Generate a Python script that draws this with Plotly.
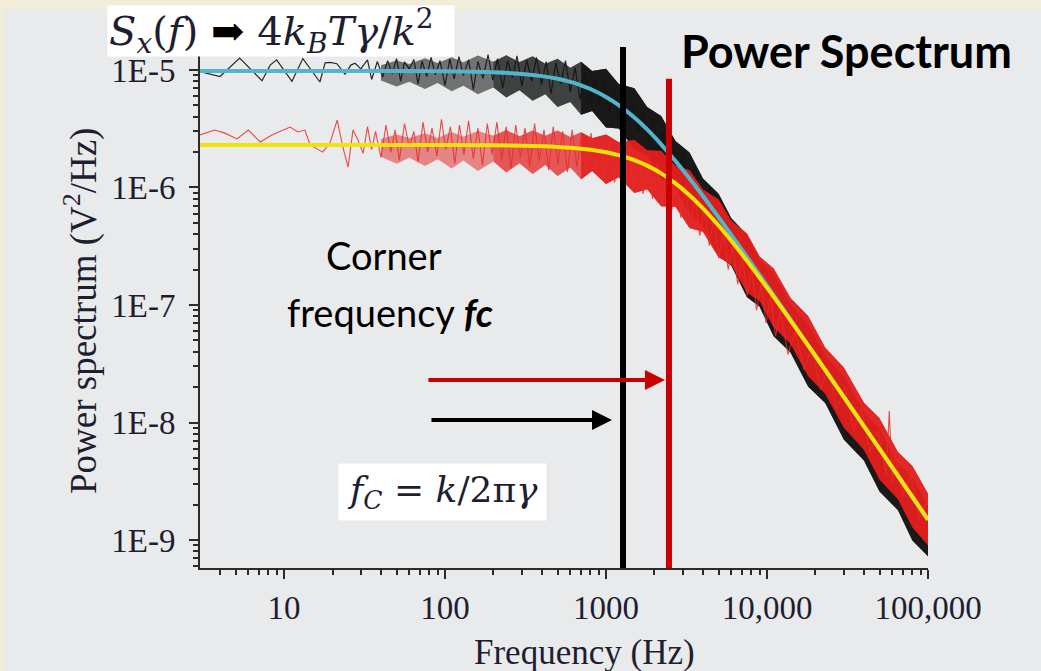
import plotly.graph_objects as go

# ---------------- data ----------------
# fitted Lorentzian curves (Hz, V^2/Hz)
fit_freq = [3, 10, 30, 100, 200, 300, 400, 500, 600, 700, 800, 1000, 1200, 1500, 1800,
            2200, 2700, 3300, 4000, 5000, 6000, 7500, 10000, 13000, 20000, 30000, 50000, 100000]
fit_black = [9.8e-6, 9.8e-6, 9.79e-6, 9.74e-6, 9.55e-6, 9.25e-6, 8.86e-6, 8.41e-6, 7.92e-6,
             7.40e-6, 6.89e-6, 5.90e-6, 5.02e-6, 3.94e-6, 3.12e-6, 2.33e-6, 1.68e-6, 1.195e-6,
             8.47e-7, 5.59e-7, 3.95e-7, 2.57e-7, 1.46e-7, 8.69e-8, 3.69e-8, 1.645e-8, 5.93e-9, 1.48e-9]
fit_red = [2.3e-6, 2.3e-6, 2.3e-6, 2.30e-6, 2.29e-6, 2.27e-6, 2.245e-6, 2.215e-6, 2.18e-6,
           2.14e-6, 2.094e-6, 1.993e-6, 1.883e-6, 1.709e-6, 1.535e-6, 1.319e-6, 1.084e-6, 8.60e-7,
           6.65e-7, 4.75e-7, 3.52e-7, 2.38e-7, 1.404e-7, 8.52e-8, 3.68e-8, 1.65e-8, 5.97e-9, 1.495e-9]

# ragged envelope of the dense noise bands
band_freq = [40, 50, 60, 75, 90, 110, 130, 160, 200, 240, 290, 350, 420, 500, 600, 700, 820, 1000,
             1200, 1500, 1800, 2200, 2700, 3300, 4000, 5000, 6000, 7500, 9000, 11000, 14000, 18000,
             23000, 30000, 40000, 50000, 65000, 80000, 100000]
black_upper = [1.099e-5, 1.202e-5, 1.122e-5, 1.256e-5, 1.146e-5, 1.282e-5, 1.164e-5, 1.330e-5,
               1.175e-5, 1.334e-5, 1.169e-5, 1.309e-5, 1.130e-5, 1.245e-5, 1.042e-5, 1.172e-5,
               9.79e-6, 1.026e-5, 7.60e-6, 7.00e-6, 4.83e-6, 4.06e-6, 2.49e-6, 1.98e-6, 1.195e-6,
               8.85e-7, 5.46e-7, 3.97e-7, 2.42e-7, 1.875e-7, 1.012e-7, 6.89e-8, 3.68e-8, 2.48e-8,
               1.222e-8, 8.77e-9, 4.52e-9, 3.35e-9, 1.954e-9]
black_lower = [8.15e-6, 7.24e-6, 7.94e-6, 6.90e-6, 7.74e-6, 6.58e-6, 7.35e-6, 6.22e-6, 7.08e-6,
               5.82e-6, 6.73e-6, 5.46e-6, 6.21e-6, 4.84e-6, 5.35e-6, 4.16e-6, 4.48e-6, 3.24e-6,
               3.17e-6, 2.11e-6, 1.88e-6, 1.197e-6, 9.91e-7, 5.98e-7, 4.75e-7, 2.61e-7, 2.17e-7,
               1.172e-7, 9.64e-8, 5.41e-8, 3.94e-8, 2.03e-8, 1.466e-8, 7.16e-9, 4.75e-9, 2.59e-9,
               1.80e-9, 9.89e-10, 7.26e-10]
red_upper = [2.58e-6, 2.83e-6, 2.64e-6, 2.90e-6, 2.64e-6, 2.96e-6, 2.70e-6, 3.02e-6, 2.75e-6,
             3.08e-6, 2.73e-6, 3.05e-6, 2.75e-6, 3.06e-6, 2.69e-6, 2.95e-6, 2.62e-6, 2.82e-6,
             2.43e-6, 2.53e-6, 2.07e-6, 2.04e-6, 1.53e-6, 1.40e-6, 9.62e-7, 7.89e-7, 5.21e-7,
             4.05e-7, 2.59e-7, 2.04e-7, 1.146e-7, 8.05e-8, 4.33e-8, 2.94e-8, 1.476e-8, 1.086e-8,
             5.61e-9, 4.26e-9, 2.48e-9]
red_lower = [1.83e-6, 1.59e-6, 1.79e-6, 1.52e-6, 1.74e-6, 1.45e-6, 1.70e-6, 1.38e-6, 1.66e-6,
             1.34e-6, 1.61e-6, 1.30e-6, 1.55e-6, 1.25e-6, 1.48e-6, 1.175e-6, 1.38e-6, 1.07e-6,
             1.22e-6, 8.97e-7, 9.68e-7, 6.92e-7, 6.84e-7, 4.52e-7, 4.20e-7, 2.55e-7, 2.22e-7,
             1.28e-7, 1.079e-7, 6.46e-8, 4.67e-8, 2.49e-8, 1.76e-8, 9.08e-9, 5.87e-9, 3.28e-9,
             2.23e-9, 1.285e-9, 9.02e-10]

# raw noisy spectra
black_freq = [3.0, 4.0, 5.3, 7.3, 8.2, 9.0, 11.2, 13.1, 16.7, 18.0, 19.3, 21.3, 23.9, 26.0, 27.6, 30,
              33, 35, 38, 41, 44, 47, 50, 53, 56, 60, 64, 68, 72, 77, 82, 87, 93, 100, 107, 114,
              122, 130, 140, 150, 160, 172, 185, 198, 212, 228, 245, 262, 280, 300, 322, 345, 370,
              397, 425, 455, 488, 523, 560, 600, 643, 690, 740, 793, 850, 911, 976, 1046, 1121,
              1200, 1290, 1380, 1480, 1590, 1700, 1830, 1960, 2100, 2250, 2420, 2600, 2800, 3000,
              3300, 3600, 4000, 4400, 4900, 5400, 6000, 6600, 7300, 8100, 9000, 10000, 11500,
              13000, 15000, 17500, 20000, 23000, 27000, 31000, 36000, 42000, 50000, 58000, 68000,
              80000, 90000, 100000]
black_psd = [9.7e-6, 8.8e-6, 1.26e-5, 8.1e-6, 1.1e-5, 1.22e-5, 8.0e-6, 1.25e-5, 7.9e-6, 1.15e-5,
             1.16e-5, 1.13e-5, 9.2e-6, 1.1e-5, 1.14e-5, 1.02e-5, 1.22e-5, 8.3e-6, 1.18e-5, 8.7e-6,
             1.2e-5, 9.3e-6, 1.25e-5, 8.0e-6, 1.17e-5, 1.02e-5, 1.23e-5, 7.6e-6, 1.19e-5, 8.8e-6,
             1.28e-5, 9.1e-6, 1.2e-5, 7.4e-6, 1.24e-5, 8.4e-6, 1.3e-5, 9.0e-6, 1.22e-5, 6.8e-6,
             1.18e-5, 8.5e-6, 1.35e-5, 8.2e-6, 1.25e-5, 7.0e-6, 1.2e-5, 8.6e-6, 1.32e-5, 7.3e-6,
             1.22e-5, 8.0e-6, 1.28e-5, 7.5e-6, 1.18e-5, 6.3e-6, 1.15e-5, 7.6e-6, 1.2e-5, 6.5e-6,
             1.05e-5, 5.6e-6, 9.6e-6, 5.3e-6, 8.8e-6, 5.0e-6, 8.0e-6, 4.4e-6, 7.0e-6, 3.9e-6,
             6.3e-6, 3.5e-6, 5.3e-6, 2.9e-6, 4.6e-6, 2.5e-6, 3.8e-6, 2.1e-6, 3.0e-6, 1.65e-6,
             2.5e-6, 1.3e-6, 2.0e-6, 1.0e-6, 1.45e-6, 7.2e-7, 1.0e-6, 5.0e-7, 6.8e-7, 3.2e-7,
             4.5e-7, 2.1e-7, 2.8e-7, 1.3e-7, 1.9e-7, 8.5e-8, 1.15e-7, 5.0e-8, 6.5e-8, 2.6e-8,
             3.5e-8, 1.4e-8, 1.9e-8, 7.8e-9, 1.05e-8, 4.0e-9, 5.6e-9, 2.0e-9, 2.9e-9, 1.0e-9, 1.6e-9]

red_freq = [3.0, 3.7, 4.3, 5.1, 6.0, 7.1, 8.4, 10.9, 12.2, 13.5, 14.5, 17.4, 19.3, 21.4, 23.2, 25,
            26.8, 28.8, 31, 33, 35, 37, 40, 43, 46, 49, 52, 56, 60, 64, 68, 73, 78, 83, 89, 95,
            101, 108, 115, 123, 131, 140, 150, 160, 171, 183, 196, 210, 225, 240, 257, 275, 294,
            314, 336, 360, 385, 412, 440, 470, 503, 538, 576, 616, 659, 705, 754, 807, 863, 924,
            988, 1057, 1131, 1210, 1295, 1385, 1482, 1586, 1697, 1816, 1943, 2079, 2224, 2380,
            2547, 2725, 2916, 3120, 3340, 3570, 3820, 4090, 4380, 4680, 5010, 5360, 5740, 6140,
            6570, 7030, 7520, 8050, 8610, 9210, 9860, 10500, 11300, 12100, 13500, 15000, 17000,
            19000, 21500, 24000, 27000, 30500, 34500, 38500, 43500, 49000, 55000, 57500, 60000,
            62000, 70000, 78000, 88000, 100000]
red_psd = [2.80e-6, 3.08e-6, 2.9e-6, 2.59e-6, 3.08e-6, 2.44e-6, 2.8e-6, 3.27e-6, 2.97e-6, 3.08e-6,
           2.3e-6, 2.0e-6, 2.4e-6, 3.75e-6, 2.2e-6, 1.49e-6, 3.08e-6, 2.54e-6, 1.95e-6, 3.3e-6,
           2.1e-6, 3.0e-6, 1.8e-6, 3.4e-6, 2.0e-6, 3.1e-6, 1.7e-6, 3.5e-6, 2.2e-6, 3.0e-6,
           1.65e-6, 3.6e-6, 2.0e-6, 3.2e-6, 1.85e-6, 3.8e-6, 2.1e-6, 3.3e-6, 1.6e-6, 3.4e-6,
           1.9e-6, 3.7e-6, 1.75e-6, 3.2e-6, 1.55e-6, 3.5e-6, 1.9e-6, 3.6e-6, 1.7e-6, 3.3e-6,
           1.45e-6, 3.4e-6, 1.8e-6, 3.2e-6, 1.5e-6, 3.5e-6, 1.7e-6, 3.1e-6, 1.4e-6, 3.3e-6,
           1.6e-6, 3.0e-6, 1.35e-6, 3.1e-6, 1.5e-6, 2.8e-6, 1.3e-6, 2.9e-6, 1.35e-6, 2.6e-6,
           1.2e-6, 2.5e-6, 1.1e-6, 2.35e-6, 1.0e-6, 2.2e-6, 1.0e-6, 2.0e-6, 8.8e-7, 1.85e-6,
           8.0e-7, 1.6e-6, 7.2e-7, 1.4e-6, 6.2e-7, 1.2e-6, 5.5e-7, 1.0e-6, 4.6e-7, 8.4e-7,
           3.9e-7, 6.8e-7, 3.2e-7, 5.5e-7, 2.5e-7, 4.3e-7, 2.0e-7, 3.3e-7, 1.5e-7, 2.6e-7,
           1.2e-7, 2.0e-7, 9.0e-8, 1.5e-7, 7.0e-8, 1.2e-7, 5.4e-8, 9.0e-8, 3.8e-8, 6.0e-8,
           2.8e-8, 4.4e-8, 1.9e-8, 3.0e-8, 1.3e-8, 2.0e-8, 8.5e-9, 1.35e-8, 5.6e-9, 8.6e-9,
           3.6e-9, 1.25e-8, 3.0e-9, 5.6e-9, 2.4e-9, 3.6e-9, 1.5e-9, 2.2e-9]

# corner frequencies (Hz) marked by vertical lines, and their top values
fc_black = 1275
fc_red = 2460
fc_black_top = 1.57e-5
fc_red_top = 8.4e-6
line_bottom = 5.0e-10

# tick labels
x_tickvals = [10, 100, 1000, 10000, 100000]
x_ticktext = ["10", "100", "1000", "10,000", "100,000"]
y_tickvals = [1e-9, 1e-8, 1e-7, 1e-6, 1e-5]
y_ticktext = ["1E-9", "1E-8", "1E-7", "1E-6", "1E-5"]

# ---------------- styling ----------------
BG = "#e9eaec"
BEIGE = "#f3ecdb"
AX = "#2b2b2b"
TXT = "#1e1e30"

fig = go.Figure()


def band(freq, up, lo, color, start=0):
    f = freq[start:]
    u = up[start:]
    l = lo[start:]
    fig.add_trace(go.Scatter(x=f + f[::-1], y=u + l[::-1], fill="toself", fillcolor=color,
                             line=dict(width=0), mode="lines", hoverinfo="skip", showlegend=False))


# black data
band(band_freq, black_upper, black_lower, "rgba(15,15,15,0.55)")
band(band_freq, black_upper, black_lower, "rgba(15,15,15,0.5)", start=8)
band(band_freq, black_upper, black_lower, "rgba(15,15,15,0.8)", start=15)
fig.add_trace(go.Scatter(x=black_freq, y=black_psd, mode="lines",
                         line=dict(color="rgba(20,20,20,0.9)", width=1.2), showlegend=False))
# red data
band(band_freq, red_upper, red_lower, "rgba(228,32,30,0.5)")
band(band_freq, red_upper, red_lower, "rgba(228,32,30,0.45)", start=8)
band(band_freq, red_upper, red_lower, "rgba(226,30,30,0.85)", start=15)
fig.add_trace(go.Scatter(x=red_freq, y=red_psd, mode="lines",
                         line=dict(color="rgba(232,45,40,0.85)", width=1.1), showlegend=False))
# fits
fig.add_trace(go.Scatter(x=fit_freq, y=fit_black, mode="lines",
                         line=dict(color="#4fb6cb", width=4, shape="spline"), showlegend=False))
fig.add_trace(go.Scatter(x=fit_freq, y=fit_red, mode="lines",
                         line=dict(color="#f2e20a", width=4, shape="spline"), showlegend=False))
# corner-frequency lines
fig.add_trace(go.Scatter(x=[fc_black, fc_black], y=[line_bottom, fc_black_top], mode="lines",
                         line=dict(color="#000000", width=6), showlegend=False))
fig.add_trace(go.Scatter(x=[fc_red, fc_red], y=[line_bottom, fc_red_top], mode="lines",
                         line=dict(color="#c80000", width=6), showlegend=False))

# plot area geometry (pixels) used for paper-space placement
L, R, T, B = 200, 113, 40, 103
W, H = 1041, 671
pw, ph = W - L - R, H - T - B


def px(xp):
    return (xp - L) / pw


def py(yp):
    return (H - B - yp) / ph


shapes = [
    dict(type="rect", xref="paper", yref="paper", x0=px(-5), x1=px(W + 5), y0=py(10), y1=py(-5),
         fillcolor=BEIGE, line=dict(width=0), layer="below"),
    dict(type="rect", xref="paper", yref="paper", x0=px(-5), x1=px(5), y0=py(H + 5), y1=py(-5),
         fillcolor=BEIGE, line=dict(width=0), layer="below"),
]

C = dict(xanchor="center", yanchor="middle", xref="paper", yref="paper", showarrow=False)

annotations = [
    # arrows
    dict(x=3.366, y=-7.638, xref="x", yref="y", ax=-238, ay=0, text="", showarrow=True,
         arrowhead=2, arrowsize=1, arrowwidth=4, arrowcolor="#c80000", standoff=0),
    dict(x=3.037, y=-7.979, xref="x", yref="y", ax=-182, ay=0, text="", showarrow=True,
         arrowhead=2, arrowsize=1, arrowwidth=4, arrowcolor="#000000", standoff=0),
    # titles
    dict(x=px(846), y=py(51), text="<b>Power Spectrum</b>",
         font=dict(family="Lato", size=45, color="#000000"), **C),
    dict(x=px(384), y=py(255), text="Corner",
         font=dict(family="Lato", size=38, color="#000000"), **C),
    dict(x=px(390), y=py(312), text="frequency <b><i>fc</i></b>",
         font=dict(family="Lato", size=38, color="#000000"), **C),
    # formula boxes
    dict(x=px(107), y=py(5), xref="paper", yref="paper", xanchor="left", yanchor="top",
         width=344, height=48, bgcolor="#ffffff", align="left", valign="middle", borderpad=1,
         showarrow=False,
         text="<i>S</i><sub><i>x</i></sub>(<i>f</i>) <span style='color:#000000'>➡</span> 4<i>k</i><sub><i>B</i></sub><i>T</i><i>γ</i>/<i>k</i><sup>2</sup>",
         font=dict(family="DejaVu Serif", size=40, color=TXT)),
    dict(x=px(338), y=py(463), xref="paper", yref="paper", xanchor="left", yanchor="top",
         width=205, height=54, bgcolor="#ffffff", align="center", valign="middle", borderpad=1,
         showarrow=False,
         text="<i>f</i><sub><i>C</i></sub> = <i>k</i>/2π<i>γ</i>",
         font=dict(family="DejaVu Serif", size=36, color=TXT)),
    # axis titles
    dict(x=px(584), y=py(652), text="Frequency (Hz)",
         font=dict(family="Liberation Serif", size=35, color=TXT), **C),
    dict(x=px(81), y=py(311), text="Power spectrum (V<sup>2</sup>/Hz)", textangle=-90,
         font=dict(family="Liberation Serif", size=37, color=TXT), **C),
]

minor_x = [m * 10 ** e for e in range(0, 5) for m in range(2, 10)]
minor_y = [m * 10.0 ** e for e in range(-10, -4) for m in range(2, 10)]

fig.update_layout(
    width=W, height=H, autosize=False,
    margin=dict(l=L, r=R, t=T, b=B, pad=0),
    paper_bgcolor=BG, plot_bgcolor=BG,
    showlegend=False,
    shapes=shapes, annotations=annotations,
    xaxis=dict(type="log", range=[0.478, 5.0], tickvals=x_tickvals, ticktext=x_ticktext,
               ticks="outside", ticklen=9, tickwidth=2, tickcolor=AX, showline=True,
               linecolor=AX, linewidth=2, showgrid=False, zeroline=False, mirror=False,
               ticklabelstandoff=0,
               tickfont=dict(family="Liberation Serif", size=33, color=TXT),
               minor=dict(tickvals=minor_x, ticks="outside", ticklen=5, tickwidth=1.5,
                          tickcolor=AX, showgrid=False)),
    yaxis=dict(type="log", range=[-9.238, -4.745], tickvals=y_tickvals, ticktext=y_ticktext,
               ticks="outside", ticklen=9, tickwidth=2, tickcolor=AX, showline=True,
               linecolor=AX, linewidth=2, showgrid=False, zeroline=False, mirror=False,
               ticklabelstandoff=7,
               tickfont=dict(family="Liberation Serif", size=33, color=TXT),
               minor=dict(tickvals=minor_y, ticks="outside", ticklen=5, tickwidth=1.5,
                          tickcolor=AX, showgrid=False)),
)

fig.write_html("out.html", config={"displayModeBar": False},
               post_script="document.body.style.margin='0px';document.body.style.padding='0px';")
